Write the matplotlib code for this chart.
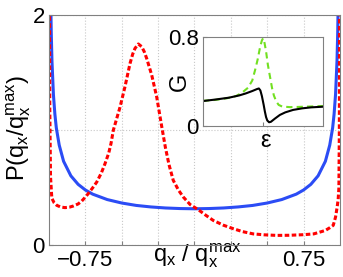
import numpy as np
import matplotlib.pyplot as plt

plt.rcParams['font.family'] = ['Liberation Sans', 'DejaVu Sans']
plt.rcParams['mathtext.fontset'] = 'custom'
plt.rcParams['mathtext.rm'] = 'Liberation Sans'
plt.rcParams['mathtext.it'] = 'Liberation Sans'
plt.rcParams['font.size'] = 16

# main panel: distribution of q_x / q_x^max
q_blue = [-0.99, -0.985, -0.98, -0.97, -0.96, -0.95, -0.93, -0.9, -0.85, -0.8, -0.75,
          -0.7, -0.6, -0.5, -0.4, -0.3, -0.2, -0.1, 0.0, 0.1, 0.2, 0.3, 0.4, 0.5,
          0.6, 0.7, 0.75, 0.8, 0.85, 0.9, 0.93, 0.95, 0.96, 0.97, 0.98, 0.985, 0.99]
p_blue = [2.26, 1.85, 1.6, 1.31, 1.14, 1.02, 0.87, 0.73, 0.604, 0.53, 0.481,
          0.445, 0.398, 0.368, 0.347, 0.334, 0.325, 0.32, 0.318, 0.32, 0.325, 0.334,
          0.347, 0.368, 0.398, 0.445, 0.481, 0.53, 0.604, 0.73, 0.87, 1.02, 1.14,
          1.31, 1.6, 1.85, 2.26]

q_red = [-0.997, -0.995, -0.99, -0.981, -0.965, -0.947, -0.92, -0.89, -0.86, -0.833,
         -0.8, -0.775, -0.75, -0.73, -0.7, -0.672, -0.64, -0.615, -0.59, -0.574,
         -0.558, -0.535, -0.512, -0.478, -0.443, -0.425, -0.409, -0.386, -0.363,
         -0.345, -0.328, -0.294, -0.26, -0.225, -0.2, -0.175, -0.146, -0.11, -0.077,
         -0.03, 0.026, 0.08, 0.129, 0.2, 0.267, 0.33, 0.404, 0.48, 0.565, 0.65,
         0.748, 0.82, 0.863, 0.9, 0.931, 0.954, 0.97, 0.981, 0.988, 0.993, 0.996, 0.998]
p_red = [2.05, 1.2, 0.6, 0.41, 0.37, 0.348, 0.333, 0.328, 0.332, 0.342,
         0.36, 0.385, 0.42, 0.45, 0.5, 0.55, 0.63, 0.71, 0.8, 0.884,
         1.0, 1.1, 1.2, 1.377, 1.58, 1.66, 1.71, 1.748, 1.725,
         1.68, 1.62, 1.478, 1.29, 1.03, 0.85, 0.7, 0.565, 0.48, 0.42,
         0.355, 0.31, 0.26, 0.217, 0.175, 0.145, 0.12, 0.1, 0.092, 0.087, 0.088,
         0.093, 0.1, 0.116, 0.13, 0.154, 0.174, 0.246, 0.333, 0.4, 0.5, 1.0, 2.05]

# inset: conductance vs energy
eps_g = [-1, -0.8, -0.6, -0.45, -0.35, -0.25, -0.18, -0.13, -0.09, -0.05, -0.02, 0,
         0.02, 0.05, 0.08, 0.12, 0.15, 0.18, 0.22, 0.26, 0.32, 0.45, 0.6, 0.8, 1]
g_green = [0.227, 0.235, 0.25, 0.27, 0.3, 0.345, 0.41, 0.51, 0.6, 0.71, 0.77, 0.79,
           0.76, 0.67, 0.55, 0.43, 0.34, 0.275, 0.22, 0.19, 0.175, 0.17, 0.172, 0.176, 0.18]
eps_k = [-1, -0.8, -0.57, -0.4, -0.29, -0.18, -0.1, -0.07, -0.045, -0.02, 0.01, 0.03,
         0.05, 0.07, 0.1, 0.13, 0.2, 0.28, 0.37, 0.5, 0.65, 0.8, 1]
g_black = [0.225, 0.238, 0.255, 0.275, 0.293, 0.315, 0.333, 0.338, 0.32, 0.27, 0.19, 0.13,
           0.08, 0.05, 0.034, 0.038, 0.068, 0.1, 0.123, 0.145, 0.159, 0.168, 0.174]

xtick_pos = [-0.75, -0.5, -0.25, 0, 0.25, 0.5, 0.75]
xtick_lab = ['\u22120.75', '', '', '', '', '', '0.75']

fig = plt.figure(figsize=(3.43, 2.77), dpi=100)
ax = fig.add_axes([0.143, 0.114, 0.848, 0.832])

ax.plot(q_blue, p_blue, color='#2b4cf5', lw=2.2)
ax.plot(q_red, p_red, color='red', lw=2.2, dashes=(1.5, 0.8))

ax.set_xlim(-1, 1)
ax.set_ylim(0, 2)
ax.set_xticks(xtick_pos)
ax.set_xticklabels(xtick_lab)
ax.set_yticks([0, 1, 2])
ax.set_yticklabels(['0', '', '2'])
ax.grid(True, color='#c8c8c8', ls=':', lw=0.8)
ax.tick_params(direction='in', length=3, color='#808080', pad=3)
for s in ax.spines.values():
    s.set_color('#808080')
ax.set_xlabel(r'$\mathregular{q_x\ /\ q_x^{max}}$', fontsize=17)
ax.xaxis.set_label_coords(0.51, 0.02)
ax.set_ylabel(r'$\mathregular{P(q_x/q_x^{max})}$', fontsize=17)
ax.yaxis.set_label_coords(-0.055, 0.51)

ins = fig.add_axes([0.592, 0.545, 0.35, 0.321])
ins.plot(eps_g, g_green, color='#72e021', lw=1.5, dashes=(3, 2))
ins.plot(eps_k, g_black, color='black', lw=1.5)
ins.set_xlim(-1, 1)
ins.set_ylim(0, 0.8)
ins.set_xticks([0])
ins.set_xticklabels([''])
ins.set_yticks([0, 0.8])
ins.set_yticklabels(['0', '0.8'])
ins.tick_params(direction='in', length=3, color='#808080', pad=3)
for s in ins.spines.values():
    s.set_color('#808080')
ins.set_xlabel('\u03b5', fontsize=17)
ins.xaxis.set_label_coords(0.52, -0.04)
ins.set_ylabel('G', fontsize=17)
ins.yaxis.set_label_coords(-0.1, 0.5)

fig.savefig('out.png', dpi=100)
